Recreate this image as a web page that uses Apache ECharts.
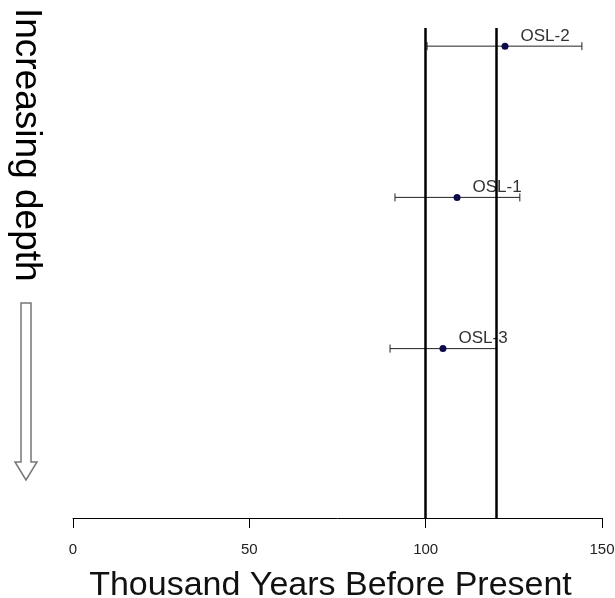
<!DOCTYPE html>
<html>
<head>
<meta charset="utf-8">
<script src="https://cdn.jsdelivr.net/npm/echarts@6/dist/echarts.min.js"></script>
<style>
html,body{margin:0;padding:0;background:#fff;}
#chart{width:615px;height:598px;}
</style>
</head>
<body>
<div id="chart"></div>
<script>
const sampleLabels = ['OSL-2', 'OSL-1', 'OSL-3'];
const depthRank = [1, 2, 3];
const ageKa = [122.5, 108.9, 104.9];
const ageLower = [100.4, 91.3, 89.9];
const ageUpper = [144.3, 126.7, 120.1];
const refLines = [100, 120];
const xTicks = [0, 50, 100, 150];

const FONT = 'Liberation Sans, Arial, sans-serif';
const chart = echarts.init(document.getElementById('chart'));

const errData = sampleLabels.map((n, i) => [ageLower[i], ageUpper[i], depthRank[i]]);
const ptData = sampleLabels.map((n, i) => ({ name: n, value: [ageKa[i], depthRank[i]] }));

chart.setOption({
  animation: false,
  backgroundColor: '#fff',
  grid: { left: 73, right: 13, top: 28, bottom: 80, containLabel: false, outerBoundsMode: 'none' },
  xAxis: {
    type: 'value', min: 0, max: 150, interval: 50,
    name: 'Thousand Years Before Present',
    nameLocation: 'middle', nameGap: 51,
    nameTextStyle: { fontFamily: FONT, fontSize: 34, color: '#111', padding: [0, 14, 0, 0] },
    axisLine: { show: true, onZero: false, lineStyle: { color: '#000', width: 1 } },
    axisTick: { show: true, length: 10, lineStyle: { color: '#000', width: 1 } },
    axisLabel: { margin: 24, fontFamily: FONT, fontSize: 15, color: '#222',
      formatter: v => xTicks.includes(v) ? String(v) : '' },
    splitLine: { show: false }
  },
  yAxis: { type: 'value', min: 0.88, max: 4.12, inverse: true, show: false },
  graphic: [
    { type: 'text', x: 26, y: 8, rotation: -Math.PI / 2,
      style: { text: 'Increasing depth', font: '37px ' + FONT, fill: '#000',
        textAlign: 'left', textVerticalAlign: 'middle' } },
    { type: 'polygon',
      shape: { points: [[21, 303], [31, 303], [31, 462], [37, 462], [26, 480], [15, 462], [21, 462]] },
      style: { fill: '#fff', stroke: '#777', lineWidth: 1.5 } }
  ],
  series: [
    {
      type: 'custom',
      data: errData,
      renderItem: function (params, api) {
        const a = api.coord([api.value(0), api.value(2)]);
        const b = api.coord([api.value(1), api.value(2)]);
        const h = 4;
        const st = { stroke: '#222', lineWidth: 1 };
        return { type: 'group', children: [
          { type: 'line', shape: { x1: a[0], y1: a[1], x2: b[0], y2: b[1] }, style: st },
          { type: 'line', shape: { x1: a[0], y1: a[1] - h, x2: a[0], y2: a[1] + h }, style: st },
          { type: 'line', shape: { x1: b[0], y1: b[1] - h, x2: b[0], y2: b[1] + h }, style: st }
        ] };
      },
      z: 2
    },
    {
      type: 'scatter',
      data: ptData,
      symbol: 'circle', symbolSize: 7,
      itemStyle: { color: '#0b0b4a', opacity: 1 },
      label: { show: true, position: 'right', distance: 0, offset: [12, -10],
        formatter: p => p.name, fontFamily: FONT, fontSize: 17, color: '#333' },
      z: 4,
      markLine: {
        silent: true, symbol: 'none', label: { show: false },
        lineStyle: { color: '#000', width: 2.5, type: 'solid' },
        data: refLines.map(v => ({ xAxis: v }))
      }
    }
  ]
});
</script>
</body>
</html>
